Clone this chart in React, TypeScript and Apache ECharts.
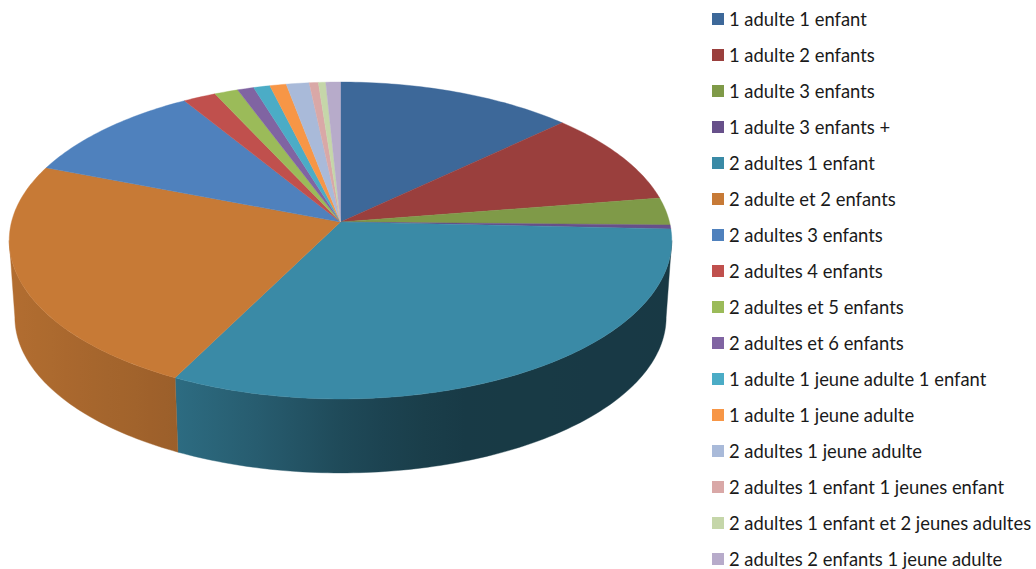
import React, { useEffect, useRef } from "react";
import * as echarts from "echarts";

const categories = [
  "1 adulte 1 enfant",
  "1 adulte 2 enfants",
  "1 adulte 3 enfants",
  "1 adulte 3 enfants +",
  "2 adultes 1 enfant",
  "2 adulte et 2 enfants",
  "2 adultes 3 enfants",
  "2 adultes 4 enfants",
  "2 adultes et 5 enfants",
  "2 adultes et 6 enfants",
  "1 adulte 1 jeune adulte 1 enfant",
  "1 adulte 1 jeune adulte",
  "2 adultes 1 jeune adulte",
  "2 adultes 1 enfant 1 jeunes enfant",
  "2 adultes 1 enfant et 2 jeunes adultes",
  "2 adultes 2 enfants 1 jeune adulte",
];
const values = [13.0, 9.55, 2.8, 0.4, 31.8, 23.5, 10.4, 1.8, 1.3, 0.9, 0.9, 0.9, 1.25, 0.5, 0.4, 0.8];
const colors = [
  "#3D6899", "#9A3F3D", "#7F9A48", "#67508A", "#3A8AA6", "#C77A36",
  "#4F81BD", "#C0504D", "#9BBB59", "#8064A2", "#4BACC6", "#F79646",
  "#A9BAD9", "#D9A8A7", "#C5D6A9", "#B7ABCA",
];

// Pie projection (perspective view of a disc)
const CX = 340.5, CY = 222, P = 0.1167, A = 329, B = 156.3;
const BOTTOM_SCALE = 0.983, BOTTOM_DY = 77, BOTTOM_DX = 0;
const total = values.reduce((s, v) => s + v, 0);

function project(theta: number, scale = 1, dx = 0, dy = 0): number[] {
  const u = Math.sin(theta), v = -Math.cos(theta);
  const w = 1 - P * v;
  return [CX + dx + (scale * A * u) / w, CY + dy + (scale * B * v) / w];
}
function arcThetas(a: number, b: number): number[] {
  const n = Math.max(2, Math.ceil((b - a) / (Math.PI / 180)));
  const out: number[] = [];
  for (let i = 0; i <= n; i++) out.push(a + ((b - a) * i) / n);
  return out;
}
// brightness of the side wall along screen x
const shadeStops = [[0, 0.9], [176, 0.78], [250, 0.68], [350, 0.52], [450, 0.42], [1036, 0.4]];
function shadeAt(x: number): number {
  for (let i = 1; i < shadeStops.length; i++) {
    const [x0, s0] = shadeStops[i - 1], [x1, s1] = shadeStops[i];
    if (x <= x1) return s0 + ((s1 - s0) * (x - x0)) / (x1 - x0);
  }
  return 0.4;
}
function shadeColor(hex: string, k: number): string {
  const n = parseInt(hex.slice(1), 16);
  const c = [(n >> 16) & 255, (n >> 8) & 255, n & 255].map((v) => Math.round(v * k));
  return `rgb(${c[0]},${c[1]},${c[2]})`;
}

function makeRenderItem(index: number) {
  return (_params: any, api: any) => {
    const before = values.slice(0, index).reduce((s, v) => s + v, 0);
    const value = api.value(0) as number;
    const a = (before / total) * Math.PI * 2;
    const b = ((before + value) / total) * Math.PI * 2;
    const color = colors[index];
    const children: any[] = [];
    const wa = Math.max(a, Math.PI / 2 + Math.asin(P));
    const wb = Math.min(b, (Math.PI * 3) / 2 - Math.asin(P));
    if (wb > wa) {
      const th = arcThetas(wa, wb);
      const top = th.map((t) => project(t));
      const bot = th.map((t) => project(t, BOTTOM_SCALE, BOTTOM_DX, BOTTOM_DY)).reverse();
      const pts = top.concat(bot);
      const xs = pts.map((p) => p[0]);
      const x0 = Math.min(...xs), x1 = Math.max(...xs);
      const stops: any[] = [];
      for (let i = 0; i <= 12; i++) {
        const f = i / 12;
        stops.push({ offset: f, color: shadeColor(color, shadeAt(x0 + (x1 - x0) * f)) });
      }
      const fill = { type: "linear", x: 0, y: 0, x2: 1, y2: 0, colorStops: stops };
      children.push({ type: "polygon", shape: { points: pts }, style: { fill, stroke: fill, lineWidth: 0.4 } });
    }
    const rim = arcThetas(a, b).map((t) => project(t));
    children.push({
      type: "polygon",
      shape: { points: [[CX, CY], ...rim] },
      style: { fill: color, stroke: color, lineWidth: 0.4 },
    });
    return { type: "group", children };
  };
}

export default function App() {
  const ref = useRef<HTMLDivElement>(null);
  useEffect(() => {
    const chart = echarts.init(ref.current!, undefined, { renderer: "svg" });
    chart.setOption({
      animation: false,
      backgroundColor: "#ffffff",
      legend: {
        orient: "vertical",
        left: 712,
        top: 10,
        height: 620,
        padding: 0,
        itemWidth: 12,
        itemHeight: 12,
        itemGap: 18,
        icon: "rect",
        selectedMode: false,
        data: categories,
        textStyle: { fontFamily: "Lato", fontSize: 18.4, color: "#1a1a1a", lineHeight: 18 },
      },
      series: categories.map((name, i) => ({
        type: "custom",
        name,
        coordinateSystem: "none",
        silent: true,
        itemStyle: { color: colors[i] },
        renderItem: makeRenderItem(i),
        data: [[values[i]]],
      })),
    });
    return () => chart.dispose();
  }, []);
  return <div ref={ref} style={{ position: "absolute", left: 0, top: 0, width: 1036, height: 569 }} />;
}
